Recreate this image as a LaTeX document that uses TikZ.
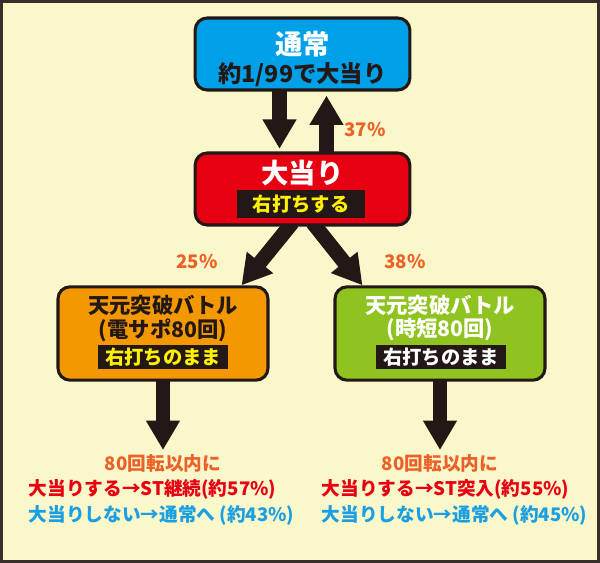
\documentclass[tikz,border=0pt]{standalone}
\usepackage{fontspec}
\setmainfont{Noto Sans CJK JP}
\usetikzlibrary{calc}
\usetikzlibrary{arrows.meta}
\usetikzlibrary{backgrounds}
\definecolor{cream}{HTML}{FAF7CB}
\definecolor{frame}{HTML}{3A2E2A}
\definecolor{ink}{HTML}{231815}
\definecolor{tsujoblue}{HTML}{00A0E9}
\definecolor{hitred}{HTML}{E60012}
\definecolor{battleorange}{HTML}{F39800}
\definecolor{battlegreen}{HTML}{8FC31F}
\definecolor{pctorange}{HTML}{EB6128}
\definecolor{msgblue}{HTML}{1A9FE2}
\definecolor{bandyellow}{HTML}{FFF100}

\begin{document}
\begin{tikzpicture}[x=0.75pt, y=-0.75pt,
  box/.style={draw=ink, line width=2.3pt, rounded corners=9pt, inner sep=0pt},
  band/.style={fill=ink, inner sep=0pt},
  big/.style={font=\bfseries\fontsize{20.5pt}{22pt}\selectfont},
  sub/.style={font=\bfseries\fontsize{17.5pt}{19pt}\selectfont},
  mid/.style={font=\bfseries\fontsize{16pt}{18pt}\selectfont},
  bandtext/.style={font=\bfseries\fontsize{14.5pt}{16pt}\selectfont},
  small/.style={font=\bfseries\fontsize{14pt}{16pt}\selectfont},
  pct/.style={pctorange, font=\bfseries\fontsize{14pt}{16pt}\selectfont},
  bigarrow/.style={ink, line width=11pt, -{Triangle[width=24pt,length=22pt]}}]
\useasboundingbox (0,0) rectangle (600,563);
% boxes
\node[box, fill=tsujoblue, minimum width=161pt, minimum height=54pt] (tsujo) at (302.5,54) {};
\node[big, white] at (302.5,44) {通常};
\node[sub, ink] at (302.5,75) {約1/99で大当り};
\node[box, fill=hitred, minimum width=161pt, minimum height=54pt] (ooatari) at (302.5,189) {};
\node[big, white] at (302.5,173) {大当り};
\node[band, minimum width=96pt, minimum height=21pt] (migi) at (301,204) {};
\node[bandtext, bandyellow] at (301,204) {右打ちする};
\node[box, fill=battleorange, minimum width=157.5pt, minimum height=70pt] (densapo) at (163,333.5) {};
\node[mid, ink] at (163,305) {天元突破バトル};
\node[mid, ink] at (163,330) {(電サポ80回)};
\node[band, minimum width=97.5pt, minimum height=17.5pt] at (163,357) {};
\node[bandtext, bandyellow] at (163,357) {右打ちのまま};
\node[box, fill=battlegreen, minimum width=157.5pt, minimum height=70pt] (jitan) at (440,333.5) {};
\node[mid, white] at (440,305) {天元突破バトル};
\node[mid, white] at (440,330) {(時短80回)};
\node[band, minimum width=97.5pt, minimum height=17.5pt] at (441,357) {};
\node[bandtext, white] at (441,357) {右打ちのまま};
% percentages
\node[pct] at (365,130) {37\%};
\node[pct] at (197,262) {25\%};
\node[pct] at (405,262) {38\%};
% results
\coordinate (leftend) at (163,450);
\coordinate (rightend) at (440,450);
\node[small, pctorange] at (163,463) {80回転以内に};
\node[small, hitred, anchor=west] at (24,489) {大当りする→ST継続(約57\%)};
\node[small, msgblue, anchor=west] at (24,515) {大当りしない→通常へ (約43\%)};
\node[small, pctorange] at (440,463) {80回転以内に};
\node[small, hitred, anchor=west] at (317,489) {大当りする→ST突入(約55\%)};
\node[small, msgblue, anchor=west] at (317,515) {大当りしない→通常へ (約45\%)};
% arrows and background
\begin{scope}[on background layer]
\fill[cream] (0,0) rectangle (600,563);
\draw[frame, line width=2.3pt] (1.5,1.5) rectangle (598.5,561.5);
\draw[bigarrow, shorten >=2pt] ($(tsujo.south)+(-23,-4)$) -- ($(ooatari.north)+(-23,0)$);
\draw[bigarrow, shorten >=3pt] ($(ooatari.north)+(24,4)$) -- ($(tsujo.south)+(24,0)$);
\draw[bigarrow] ($(ooatari.south)+(-10,-4)$) -- ($(densapo.north east)+(-28,0)$);
\draw[bigarrow] ($(ooatari.south)+(10,-4)$) -- ($(jitan.north west)+(29,0)$);
\draw[bigarrow] ($(densapo.south)+(0,-4)$) -- (leftend);
\draw[bigarrow] ($(jitan.south)+(0,-4)$) -- (rightend);
\end{scope}
\end{tikzpicture}
\end{document}
